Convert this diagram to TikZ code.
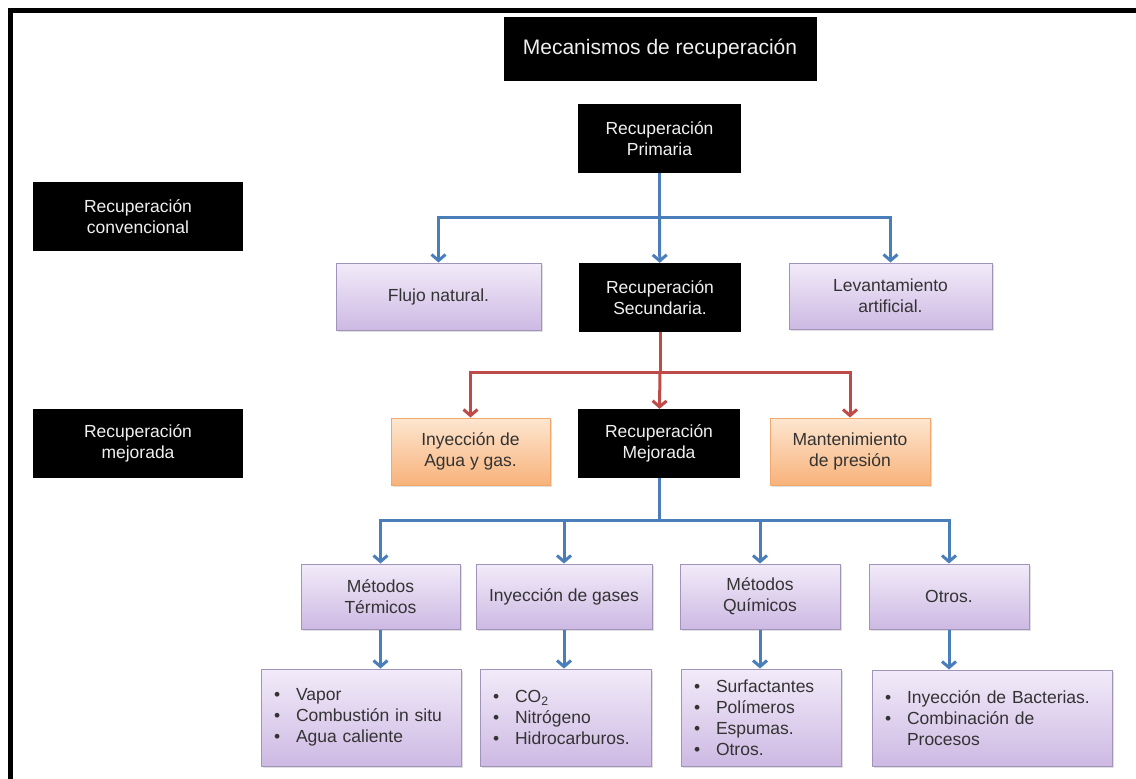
\documentclass[tikz,border=0pt]{standalone}
\usepackage{fontspec}
\setmainfont{Liberation Sans}
\usepackage{xcolor}
\usepackage{tikz}
\usetikzlibrary{shapes,positioning,arrows.meta,shadows}
\definecolor{azul}{HTML}{4A7EBB}
\definecolor{rojo}{HTML}{BE4B48}
\definecolor{lilaA}{HTML}{F2EBF9}
\definecolor{lilaB}{HTML}{CDB9E3}
\definecolor{lilaC}{HTML}{A094BA}
\definecolor{narA}{HTML}{FDE6D0}
\definecolor{narB}{HTML}{F8B27A}
\definecolor{narC}{HTML}{F2A86C}
\definecolor{texto}{HTML}{333333}
\tikzset{sz/.style 2 args={minimum width=#1,minimum height=#2}}
\tikzset{blk/.style={rectangle,fill=black,text=white!94!black,align=center,inner sep=0pt,font=\fontsize{17.5}{21}\selectfont}}
\tikzset{lila/.style={rectangle,draw=lilaC,line width=1pt,top color=lilaA,bottom color=lilaB,text=texto,align=center,inner sep=0pt,font=\fontsize{17.5}{21}\selectfont,drop shadow={opacity=0.25,shadow xshift=1.5pt,shadow yshift=-2pt}}}
\tikzset{nar/.style={lila,draw=narC,top color=narA,bottom color=narB}}
\tikzset{lst/.style={lila,align=left,inner xsep=13pt}}
\tikzset{azl/.style={draw=azul,line width=3pt}}
\tikzset{roj/.style={draw=rojo,line width=3pt}}
\newcommand{\bul}{\makebox[22pt][l]{\textbullet}}

\begin{document}
\begin{tikzpicture}[x=1pt,y=-1pt,>={Straight Barb[length=6pt,width=14pt]}]
    \useasboundingbox (0,0) rectangle (1136,779);
    \draw[line width=5pt] (10,779) -- (10,10.5) -- (1136,10.5);

    \node[blk,sz={313}{64},font=\fontsize{21}{25}\selectfont] (tit)at (660,49) {Mecanismos de recuperación};
    \node[blk,sz={163}{69}] (prim)at (659.5,138.5) {Recuperación\\Primaria};
    \node[blk,sz={210}{69}] (conv)at (138,216.5) {Recuperación\\convencional};
    \node[lila,sz={205}{67}] (flujo)at (438.5,296.5) {Flujo natural.};
    \node[blk,sz={162}{69}] (sec)at (660,297.5) {Recuperación\\Secundaria.};
    \node[lila,sz={203}{66}] (lev)at (890.5,296) {Levantamiento\\artificial.};
    \node[blk,sz={210}{69}] (mejl)at (138,443.5) {Recuperación\\mejorada};
    \node[nar,sz={159}{67}] (agua)at (470.5,451.5) {Inyección de\\Agua y gas.};
    \node[blk,sz={162}{69}] (mejo)at (659,443.5) {Recuperación\\Mejorada};
    \node[nar,sz={160}{67}] (mant)at (850,451.5) {Mantenimiento\\de presión};
    \node[lila,sz={159}{65}] (term)at (380.5,596.5) {Métodos\\Térmicos};
    \node[lila,sz={176}{65}] (gas)at (564,596.5) {Inyección de gases};
    \node[lila,sz={160}{65}] (quim)at (760,596.5) {Métodos\\Químicos};
    \node[lila,sz={160}{65}] (otr)at (949,596.5) {Otros.};
    \node[lst,sz={200}{97},text width=174pt] (l1)at (361,717.5) {\bul Vapor\\\bul Combustión in situ\\\bul Agua caliente};
    \node[lst,sz={171}{97},text width=145pt] (l2)at (565.5,717.5) {\bul CO\textsubscript{2}\\\bul Nitrógeno\\\bul Hidrocarburos.};
    \node[lst,sz={160}{97},text width=134pt] (l3)at (761,717.5) {\bul Surfactantes\\\bul Polímeros\\\bul Espumas.\\\bul Otros.};
    \node[lst,sz={240}{96},text width=214pt] (l4)at (992,718) {\bul Inyección de Bacterias.\\\bul Combinación de\\\hspace*{22pt}Procesos};

    \coordinate (c1) at (659.5,217);
    \coordinate (c2) at (660,372);
    \coordinate (c3) at (659,520);

    \draw [azl] (prim) -- (c1);
    \draw [azl,->] (c1) -| (flujo);
    \draw [azl,->] (c1) -- (sec);
    \draw [azl,->] (c1) -| (lev);
    \draw [roj] (sec) -- (c2);
    \draw [roj,->] (c2) -| (agua);
    \draw [roj,->] (c2) -- (mejo);
    \draw [roj,->] (c2) -| (mant);
    \draw [azl] (mejo) -- (c3);
    \draw [azl,->] (c3) -| (term);
    \draw [azl,->] (c3) -| (gas);
    \draw [azl,->] (c3) -| (quim);
    \draw [azl,->] (c3) -| (otr);
    \draw [azl,->] (term) -- (term |- l1.north);
    \draw [azl,->] (gas) -- (gas |- l2.north);
    \draw [azl,->] (quim) -- (quim |- l3.north);
    \draw [azl,->] (otr) -- (otr |- l4.north);
\end{tikzpicture}
\end{document}
